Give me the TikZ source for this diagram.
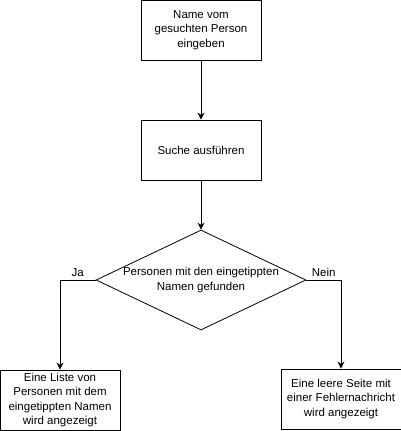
\documentclass[tikz,border=0pt]{standalone}
\usepackage{fontspec}
\setmainfont{Liberation Sans}
\usetikzlibrary{positioning, shapes.geometric, arrows.meta}

\begin{document}
\begin{tikzpicture}[x=1pt, y=1pt, node distance=120pt, on grid, auto,
  font=\fontsize{11.5}{14.5}\selectfont, line width=0.8pt,
  >={Stealth[length=7pt, width=7pt]},
  box/.style={draw, minimum width=120pt, minimum height=60pt, align=center, inner sep=2pt},
  choice/.style={draw, diamond, aspect=2.1, minimum width=210pt, minimum height=100pt,
    inner xsep=-10pt, inner ysep=0pt, align=center}]
  \useasboundingbox (0,0) rectangle (401,-431);
  \node[box] (eingabe) at (201,-30) {Name vom\\gesuchten Person\\eingeben};
  \node[box] (suche) [below=of eingabe] {Suche ausführen};
  \node[choice] (gefunden) [below=130pt of suche] {Personen mit den eingetippten\\Namen gefunden};
  \node[box] (liste) [below left=120pt and 141pt of gefunden] {Eine Liste von\\Personen mit dem\\eingetippten Namen\\wird angezeigt};
  \node[box] (fehler) [below right=119pt and 140pt of gefunden] {Eine leere Seite mit\\einer Fehlernachricht\\wird angezeigt};
  \draw[->] (eingabe) -- (suche);
  \draw[->] (suche) -- (gefunden);
  \draw[->] (gefunden.west) -| node[pos=0.25, above] {Ja} (liste);
  \draw[->] (gefunden.east) -| node[pos=0.25, above] {Nein} (fehler);
\end{tikzpicture}
\end{document}
